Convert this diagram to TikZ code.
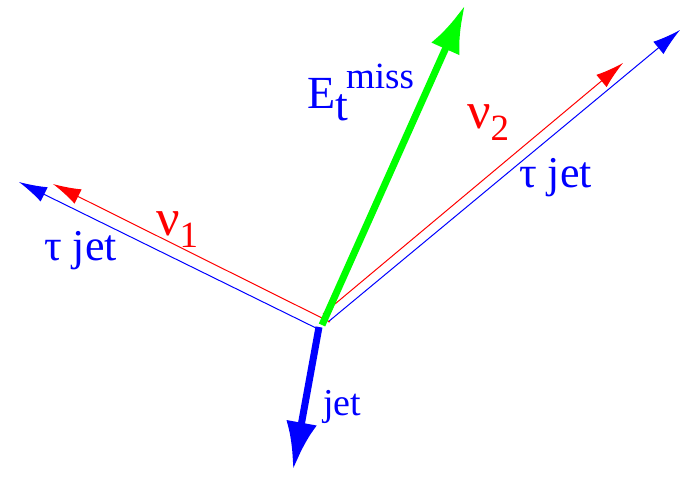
\documentclass[tikz,border=0pt]{standalone}
\usepackage{fontspec}
\setmainfont{Liberation Serif}
\usetikzlibrary{arrows.meta}
\definecolor{pblue}{RGB}{0,0,255}
\definecolor{pred}{RGB}{255,0,0}
\definecolor{pgreen}{RGB}{0,255,0}
\tikzset{
  thinvec/.style={line width=1pt,-{Latex[length=28pt,width=16pt]}},
  thickvec/.style={line width=7pt,-{Latex[length=48pt,width=31pt]}},
  lab/.style={inner sep=0pt,anchor=base west},
}
\begin{document}
\begin{tikzpicture}[x=1pt,y=-1pt]
\useasboundingbox (0,0) rectangle (681,477);
% coordinates
\coordinate (bl) at (19,182);
\coordinate (bo1) at (316,328);
\coordinate (bo2) at (328,322);
\coordinate (br) at (680,30);
\coordinate (rl) at (53,184);
\coordinate (ro1) at (330,322);
\coordinate (ro2) at (323,314);
\coordinate (rr) at (623,63);
\coordinate (go) at (322,325);
\coordinate (gt) at (465,5);
\coordinate (jo) at (319,327);
\coordinate (jt) at (293,470);
% tau jets
\draw[thinvec,pblue] (bo1) -- (bl);
\draw[thinvec,pblue] (bo2) -- (br);
% neutrinos
\draw[thinvec,pred] (ro1) -- (rl);
\draw[thinvec,pred] (ro2) -- (rr);
% missing Et
\draw[thickvec,pgreen] (go) -- (gt);
% jet
\draw[thickvec,pblue] (jo) -- (jt);
% labels
\node[lab,text=pblue,font=\fontsize{44}{44}\selectfont] (tjl) at (44,260) {τ jet};
\node[lab,text=pblue,font=\fontsize{44}{44}\selectfont] (tjr) at (519,187) {τ jet};
\node[lab,text=pred,font=\fontsize{52}{52}\selectfont] (nu1) at (156,235) {ν\raisebox{-12pt}{\fontsize{37}{37}\selectfont 1}};
\node[lab,text=pred,font=\fontsize{52}{52}\selectfont] (nu2) at (467,128) {ν\raisebox{-12pt}{\fontsize{37}{37}\selectfont 2}};
\node[lab,text=pblue,font=\fontsize{46}{46}\selectfont] (et) at (307,108) {E\raisebox{-12pt}{t}\hspace{-2pt}\raisebox{20pt}{\fontsize{37}{37}\selectfont miss}};
\node[lab,text=pblue,font=\fontsize{38}{38}\selectfont] (jl) at (323,415) {jet};
\end{tikzpicture}
\end{document}
